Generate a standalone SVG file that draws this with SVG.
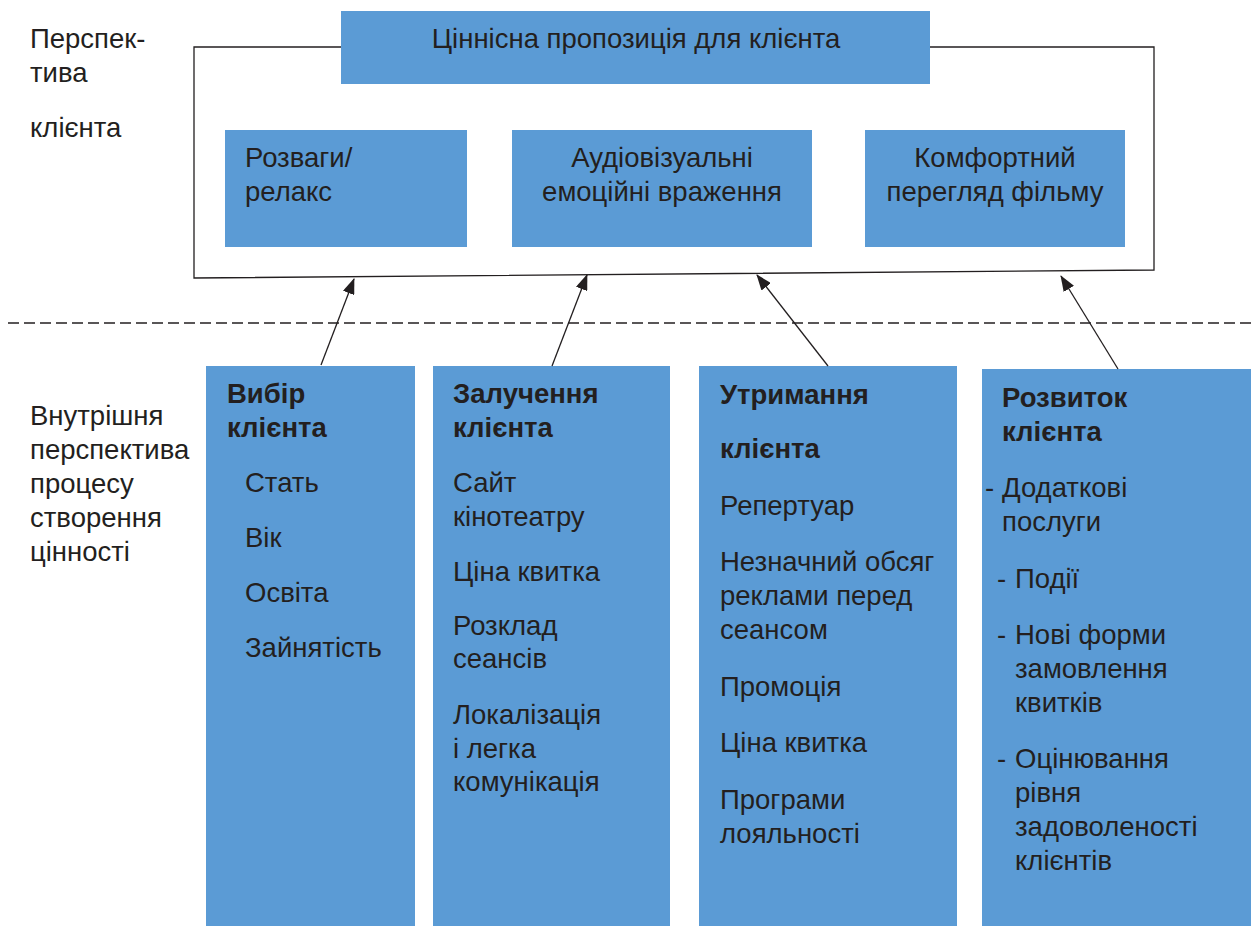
<svg xmlns="http://www.w3.org/2000/svg" width="1251" height="926" viewBox="0 0 1251 926">
<defs>
<style>
.box{fill:#5B9BD5;}
text{font-family:"Liberation Sans",Arial,sans-serif;font-size:27.5px;fill:#231F20;}
.b{font-weight:bold;}
.c{text-anchor:middle;}
.ln{fill:none;stroke:#231F20;stroke-width:1.3;}
.ar{fill:none;stroke:#231F20;stroke-width:1.3;marker-end:url(#ah);}
</style>
<marker id="ah" viewBox="0 0 16 12" refX="15" refY="6" markerWidth="16" markerHeight="12" markerUnits="userSpaceOnUse" orient="auto">
<path d="M0,0 L16,6 L0,12 Z" fill="#231F20"/>
</marker>
</defs>
<rect width="1251" height="926" fill="#fff"/>

<g id="labels">
<text x="30" y="48">Перспек-</text>
<text x="30" y="82">тива</text>
<text x="30" y="137">клієнта</text>
<text x="30" y="425">Внутрішня</text>
<text x="30" y="459">перспектива</text>
<text x="30" y="493">процесу</text>
<text x="30" y="527">створення</text>
<text x="30" y="561">цінності</text>
</g>

<g id="frame">
<path class="ln" d="M341,47 H194 V278 L1154,270 V47 H930"/>
<line x1="8" y1="323" x2="1251" y2="323" stroke="#231F20" stroke-width="1.3" stroke-dasharray="11,5"/>
</g>

<g id="value-prop">
<rect class="box" x="341" y="11" width="589" height="73"/>
<text class="c" x="636" y="48">Ціннісна пропозиція для клієнта</text>
</g>

<g id="relax">
<rect class="box" x="225" y="130" width="242" height="117"/>
<text x="245" y="167">Розваги/</text>
<text x="245" y="201">релакс</text>
</g>

<g id="av">
<rect class="box" x="512" y="130" width="300" height="117"/>
<text class="c" x="662" y="167">Аудіовізуальні</text>
<text class="c" x="662" y="201">емоційні враження</text>
</g>

<g id="comfort">
<rect class="box" x="865" y="130" width="260" height="117"/>
<text class="c" x="995" y="167">Комфортний</text>
<text class="c" x="995" y="201">перегляд фільму</text>
</g>

<g id="col-choice">
<rect class="box" x="206" y="366" width="209" height="560"/>
<text class="b" x="227" y="403">Вибір</text>
<text class="b" x="227" y="437">клієнта</text>
<text x="245" y="492">Стать</text>
<text x="245" y="547">Вік</text>
<text x="245" y="602">Освіта</text>
<text x="245" y="657">Зайнятість</text>
</g>

<g id="col-attract">
<rect class="box" x="433" y="366" width="237" height="560"/>
<text class="b" x="453" y="403">Залучення</text>
<text class="b" x="453" y="437">клієнта</text>
<text x="453" y="492">Сайт</text>
<text x="453" y="526">кінотеатру</text>
<text x="453" y="581">Ціна квитка</text>
<text x="453" y="635">Розклад</text>
<text x="453" y="668">сеансів</text>
<text x="453" y="724">Локалізація</text>
<text x="453" y="758">і легка</text>
<text x="453" y="791">комунікація</text>
</g>

<g id="col-retain">
<rect class="box" x="699" y="366" width="258" height="560"/>
<text class="b" x="720" y="404">Утримання</text>
<text class="b" x="720" y="458">клієнта</text>
<text x="720" y="515">Репертуар</text>
<text x="720" y="571">Незначний обсяг</text>
<text x="720" y="605">реклами перед</text>
<text x="720" y="639">сеансом</text>
<text x="720" y="696">Промоція</text>
<text x="720" y="752">Ціна квитка</text>
<text x="720" y="809">Програми</text>
<text x="720" y="843">лояльності</text>
</g>

<g id="col-develop">
<rect class="box" x="982" y="369" width="269" height="557"/>
<text class="b" x="1002" y="407">Розвиток</text>
<text class="b" x="1002" y="441">клієнта</text>
<text x="985" y="497">-</text>
<text x="1002" y="497">Додаткові</text>
<text x="1002" y="531">послуги</text>
<text x="997" y="588">-</text>
<text x="1015" y="588">Події</text>
<text x="997" y="644">-</text>
<text x="1015" y="644">Нові форми</text>
<text x="1015" y="678">замовлення</text>
<text x="1015" y="712">квитків</text>
<text x="997" y="768">-</text>
<text x="1015" y="768">Оцінювання</text>
<text x="1015" y="802">рівня</text>
<text x="1015" y="836">задоволеності</text>
<text x="1015" y="870">клієнтів</text>
</g>

<g id="connectors">
<line class="ar" x1="321" y1="365" x2="354" y2="279"/>
<line class="ar" x1="552" y1="366" x2="587" y2="275"/>
<line class="ar" x1="828" y1="366" x2="757" y2="275"/>
<line class="ar" x1="1118" y1="369" x2="1061" y2="276"/>
</g>
</svg>
